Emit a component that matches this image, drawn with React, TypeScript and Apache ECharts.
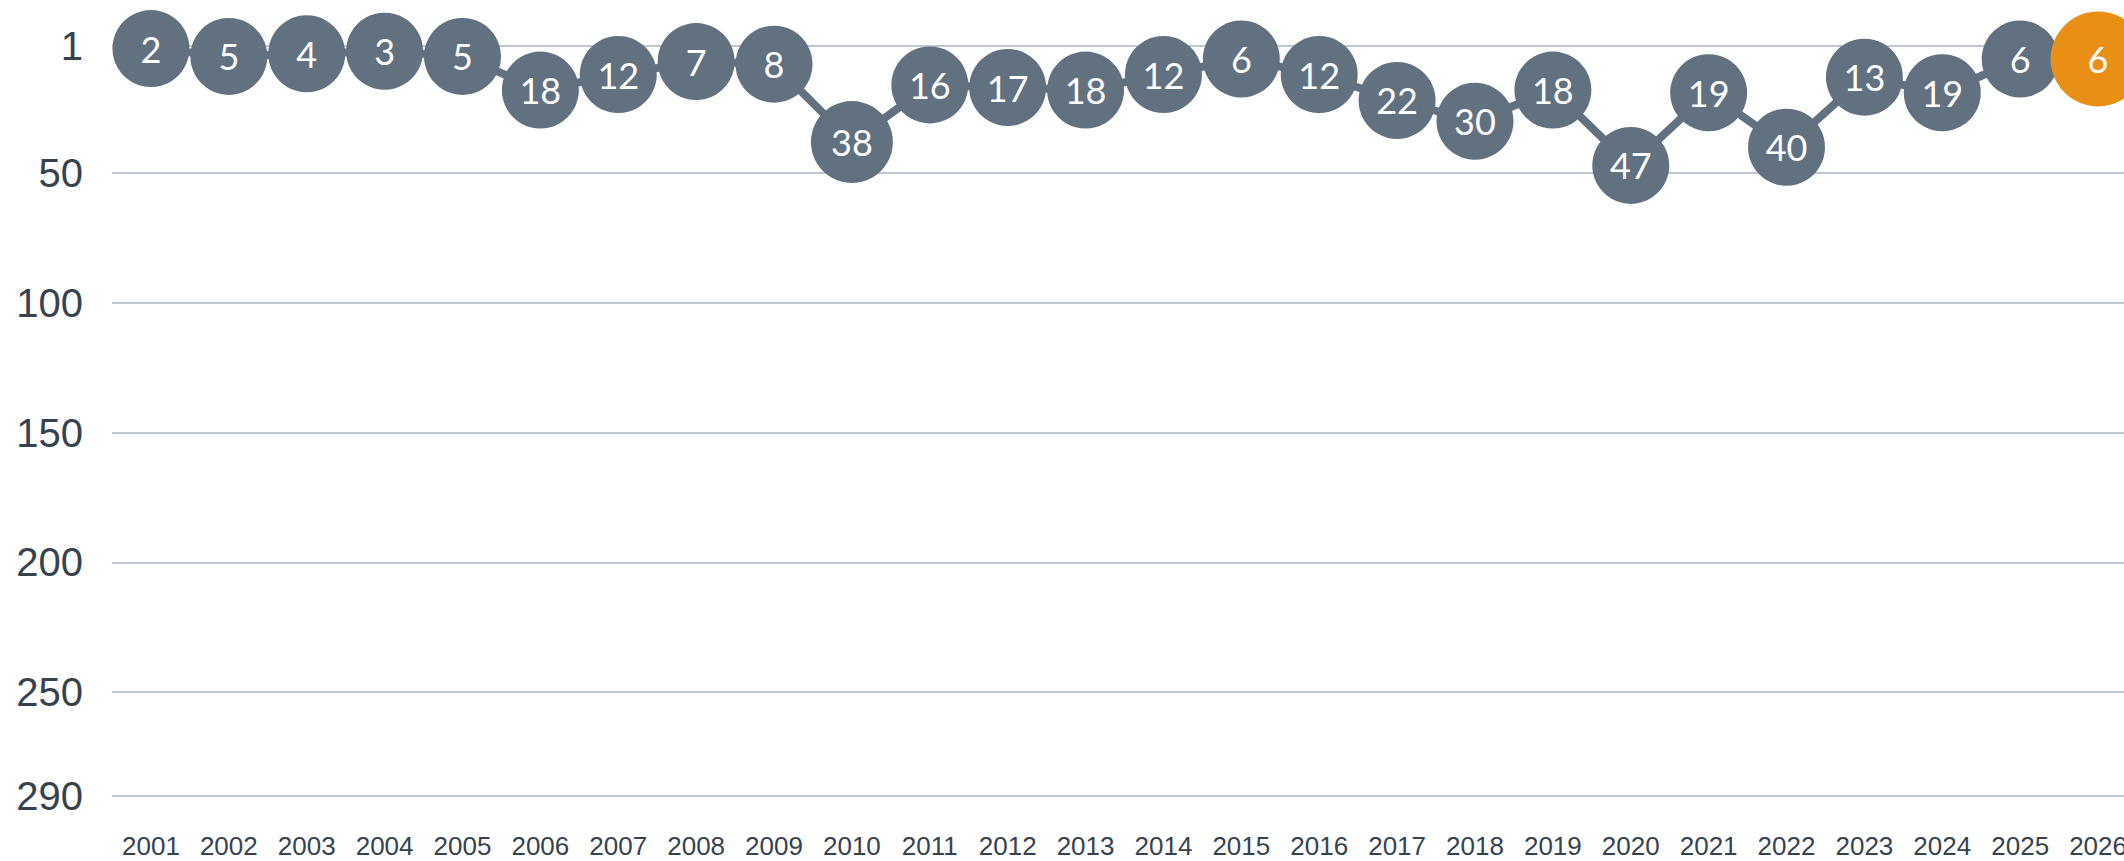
import React, { useEffect, useRef } from "react";
import * as echarts from "echarts";

const years = [
  "2001", "2002", "2003", "2004", "2005", "2006", "2007", "2008", "2009", "2010",
  "2011", "2012", "2013", "2014", "2015", "2016", "2017", "2018", "2019", "2020",
  "2021", "2022", "2023", "2024", "2025", "2026",
];
const ranks = [
  2, 5, 4, 3, 5, 18, 12, 7, 8, 38,
  16, 17, 18, 12, 6, 12, 22, 30, 18, 47,
  19, 40, 13, 19, 6, 6,
];
const yTicks = [1, 50, 100, 150, 200, 250, 290];
const highlightYear = "2026";

const GREY = "#627180";
const ORANGE = "#E98F16";
const TEXT = "#37424f";

export default function App() {
  const ref = useRef<HTMLDivElement>(null);
  useEffect(() => {
    document.body.style.margin = "0";
    document.body.style.overflow = "hidden";
    const chart = echarts.init(ref.current!, null, { renderer: "svg" });
    const data = ranks.map((r, i) => {
      const hi = years[i] === highlightYear;
      return {
        value: r,
        symbolSize: hi ? 95 : years[i] === "2010" ? 82 : 77,
        itemStyle: { color: hi ? ORANGE : GREY },
      };
    });
    chart.setOption({
      animation: false,
      grid: { left: 112, top: 46, width: 2025, height: 750 },
      xAxis: {
        type: "category",
        data: years,
        boundaryGap: true,
        axisLine: { show: false },
        axisTick: { show: false },
        axisLabel: {
          color: TEXT,
          fontFamily: "Liberation Sans",
          fontSize: 26,
          margin: 37,
        },
      },
      yAxis: {
        type: "value",
        inverse: true,
        min: 1,
        max: 290,
        axisLine: { show: false },
        axisTick: { show: false, customValues: yTicks },
        axisLabel: {
          customValues: yTicks,
          color: TEXT,
          fontFamily: "Liberation Sans",
          fontSize: 40,
          margin: 29,
        },
        splitLine: { show: true, lineStyle: { color: "#a7b6c5", width: 1.5 } },
      },
      series: [
        {
          type: "line",
          data,
          clip: false,
          symbol: "circle",
          lineStyle: { color: GREY, width: 8 },
          itemStyle: { color: GREY },
          label: {
            show: true,
            position: "inside",
            color: "#ffffff",
            fontFamily: "Lato",
            fontSize: 36,
          },
          z: 3,
        },
      ],
    });
    return () => chart.dispose();
  }, []);
  return (
    <div
      ref={ref}
      style={{ position: "absolute", left: 0, top: 0, width: 2160, height: 861 }}
    />
  );
}
